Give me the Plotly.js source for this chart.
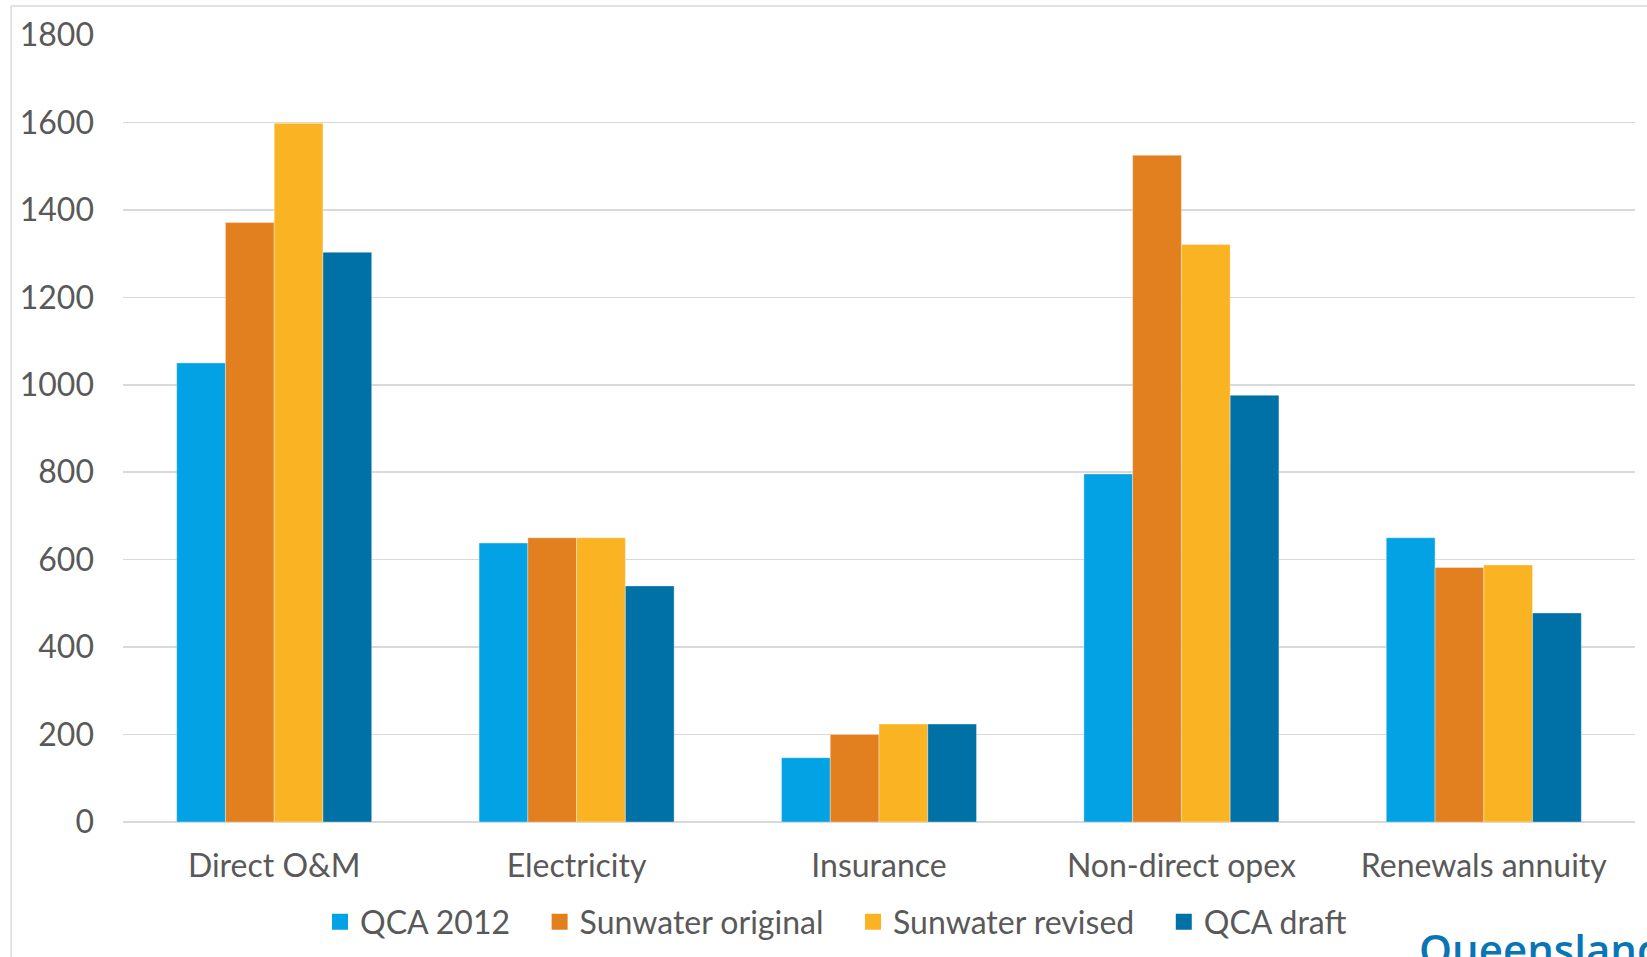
<!DOCTYPE html>
<html>
<head>
<meta charset="utf-8">
<script src="https://cdn.plot.ly/plotly-3.0.1.min.js"></script>
<style>html,body{margin:0;padding:0;background:#fff;}#chart{width:1647px;height:957px;}</style>
</head>
<body>
<div id="chart"></div>
<script>
var categories = ["Direct O&M", "Electricity", "Insurance", "Non-direct opex", "Renewals annuity"];
var seriesNames = ["QCA 2012", "Sunwater original", "Sunwater revised", "QCA draft"];
var qca2012 = [1050, 638, 147, 796, 650];
var sunwaterOriginal = [1371, 650, 200, 1525, 582];
var sunwaterRevised = [1598, 650, 224, 1321, 588];
var qcaDraft = [1303, 540, 224, 976, 478];
var yTicks = [0, 200, 400, 600, 800, 1000, 1200, 1400, 1600, 1800];
var colors = ["#02A2E4", "#E27F1E", "#FAB423", "#0071A6"];

var values = [qca2012, sunwaterOriginal, sunwaterRevised, qcaDraft];
var traces = [];
values.forEach(function(v, i){
  traces.push({
    type: "bar", x: categories, y: v, name: seriesNames[i],
    marker: {color: colors[i], line: {color: "rgba(255,255,255,0.35)", width: 1}},
    showlegend: false, legendgroup: "g" + i, hoverinfo: "x+y+name"
  });
});
var pad = "\u00a0\u00a0\u00a0";
values.forEach(function(v, i){
  traces.push({
    type: "scatter", mode: "markers", x: [null], y: [null],
    name: seriesNames[i] + (i < values.length - 1 ? pad : ""),
    marker: {color: colors[i], symbol: "square", size: 16},
    showlegend: true, legendgroup: "g" + i
  });
});

var font = {family: "Lato, 'Open Sans', sans-serif", size: 32, color: "#595959"};
var layout = {
  width: 1647, height: 957,
  margin: {l: 123, r: 12, t: 35, b: 135},
  paper_bgcolor: "#fff", plot_bgcolor: "#fff",
  font: font,
  barmode: "group", bargap: 0.355, bargroupgap: 0,
  showlegend: true,
  legend: {orientation: "h", xref: "container", yref: "container",
           x: 0.5076, xanchor: "center", y: 0.0366, yanchor: "middle",
           font: font, traceorder: "normal", itemwidth: 30, tracegroupgap: 0},
  xaxis: {type: "category", showgrid: false, showline: false, zeroline: false, ticks: "",
          tickfont: font, ticklabelstandoff: 22, fixedrange: true},
  yaxis: {range: [0, 1800], tickvals: yTicks, ticktext: yTicks.map(String),
          showgrid: true, gridcolor: "#D9D9D9", gridwidth: 1.5,
          zeroline: true, zerolinecolor: "#D9D9D9", zerolinewidth: 1.5,
          showline: false, ticks: "", tickfont: font, ticklabelstandoff: 28, fixedrange: true},
  shapes: [{type: "rect", xref: "paper", yref: "paper",
            x0: -0.074, x1: 1.2, y0: -0.3, y1: 1.0369,
            line: {color: "#D9D9D9", width: 1.5}, fillcolor: "rgba(0,0,0,0)", layer: "below"}],
  annotations: [{text: "Queensland", xref: "paper", yref: "paper", x: 0.856, y: -0.122,
                 xanchor: "left", yanchor: "top", showarrow: false,
                 font: {family: "'Open Sans', sans-serif", size: 42, color: "#0A75B5", weight: 600}}]
};
Plotly.newPlot("chart", traces, layout, {staticPlot: true, displayModeBar: false});
</script>
</body>
</html>
